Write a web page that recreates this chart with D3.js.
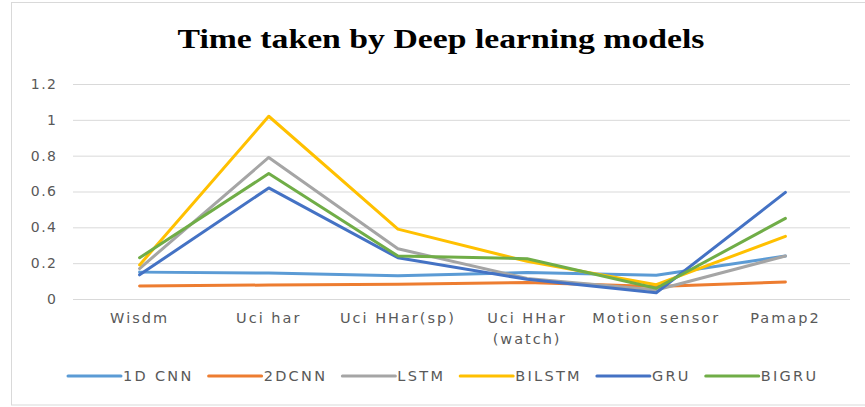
<!DOCTYPE html>
<html>
<head>
<meta charset="utf-8">
<script src="https://cdn.jsdelivr.net/npm/d3@7"></script>
<style>
  body { margin: 0; background: #fff; }
  text { font-family: "DejaVu Sans", sans-serif; }
</style>
</head>
<body>
<div id="chart"></div>
<script>
const categories = ["Wisdm", "Uci har", "Uci HHar(sp)", "Uci HHar\n(watch)", "Motion sensor", "Pamap2"];
const seriesNames = ["1D CNN", "2DCNN", "LSTM", "BILSTM", "GRU", "BIGRU"];
const cnn1d  = [0.15, 0.145, 0.13, 0.148, 0.133, 0.24];
const cnn2d  = [0.073, 0.078, 0.082, 0.092, 0.07, 0.095];
const lstm   = [0.17, 0.79, 0.28, 0.115, 0.05, 0.24];
const bilstm = [0.19, 1.02, 0.39, 0.21, 0.08, 0.35];
const gru    = [0.135, 0.62, 0.23, 0.11, 0.035, 0.595];
const bigru  = [0.23, 0.70, 0.24, 0.225, 0.06, 0.45];
const yTicks = [0, 0.2, 0.4, 0.6, 0.8, 1, 1.2];
const colors = ["#5B9BD5", "#ED7D31", "#A5A5A5", "#FFC000", "#4472C4", "#70AD47"];

const series = [cnn1d, cnn2d, lstm, bilstm, gru, bigru];

const width = 865;
const height = 407;
const marginTop = 84;
const marginBottom = 108;
const plotLeft = 73;
const plotRight = 850;

const svg = d3.select("#chart")
    .append("svg")
    .attr("width", width)
    .attr("height", height);

// outer frame
svg.append("rect")
    .attr("x", 11.5).attr("y", 2.5)
    .attr("width", 870).attr("height", 402.5)
    .attr("fill", "none")
    .attr("stroke", "#d9d9d9");

// title
svg.append("text")
    .attr("x", 441)
    .attr("y", 48)
    .attr("text-anchor", "middle")
    .attr("textLength", 527)
    .attr("lengthAdjust", "spacingAndGlyphs")
    .style("font-family", "'Liberation Serif', 'Times New Roman', serif")
    .style("font-weight", "bold")
    .style("font-size", "27px")
    .attr("fill", "#000")
    .text("Time taken by Deep learning models");

const x = d3.scaleBand()
    .domain(categories)
    .range([plotLeft + 2, plotRight]);

const y = d3.scaleLinear()
    .domain([0, 1.2])
    .range([height - marginBottom, marginTop]);

// gridlines + y labels
const yAxis = svg.append("g")
    .attr("transform", `translate(${plotLeft},0)`)
    .call(d3.axisLeft(y).tickValues(yTicks).tickSize(-(plotRight - plotLeft)).tickPadding(17)
        .tickFormat(d => d3.format("")(d)));
yAxis.select(".domain").remove();
yAxis.selectAll(".tick line").attr("stroke", "#d9d9d9").attr("stroke-width", 1);
yAxis.selectAll(".tick text")
    .attr("fill", "#595959")
    .style("font-size", "14px")
    .style("letter-spacing", "1.5px")
    .attr("dx", "1.5px");

// category labels
const xLabels = svg.append("g");
categories.forEach(c => {
    const t = xLabels.append("text")
        .attr("x", x(c) + x.bandwidth() / 2)
        .attr("y", 323)
        .attr("text-anchor", "middle")
        .attr("fill", "#595959")
        .style("font-size", "14.5px")
        .style("letter-spacing", "2px");
    c.split("\n").forEach((part, i) => {
        t.append("tspan")
            .attr("x", x(c) + x.bandwidth() / 2)
            .attr("dy", i === 0 ? 0 : 21)
            .text(part);
    });
});

// lines
const line = d3.line()
    .x((_, i) => x(categories[i]) + x.bandwidth() / 2)
    .y(d => y(d));

series.forEach((s, k) => {
    svg.append("path")
        .datum(s)
        .attr("fill", "none")
        .attr("stroke", colors[k])
        .attr("stroke-width", 3)
        .attr("stroke-linejoin", "round")
        .attr("stroke-linecap", "round")
        .attr("d", line);
});

// legend
const legend = svg.append("g").attr("transform", "translate(68,376)");
let lx = 0;
seriesNames.forEach((name, k) => {
    legend.append("line")
        .attr("x1", lx).attr("x2", lx + 53)
        .attr("y1", 0).attr("y2", 0)
        .attr("stroke", colors[k])
        .attr("stroke-width", 3)
        .attr("stroke-linecap", "round");
    const t = legend.append("text")
        .attr("x", lx + 55)
        .attr("y", 5)
        .attr("fill", "#595959")
        .style("font-size", "14.5px")
        .style("letter-spacing", "2.3px")
        .text(name);
    lx += 55 + t.node().getComputedTextLength() + 15;
});
</script>
</body>
</html>
